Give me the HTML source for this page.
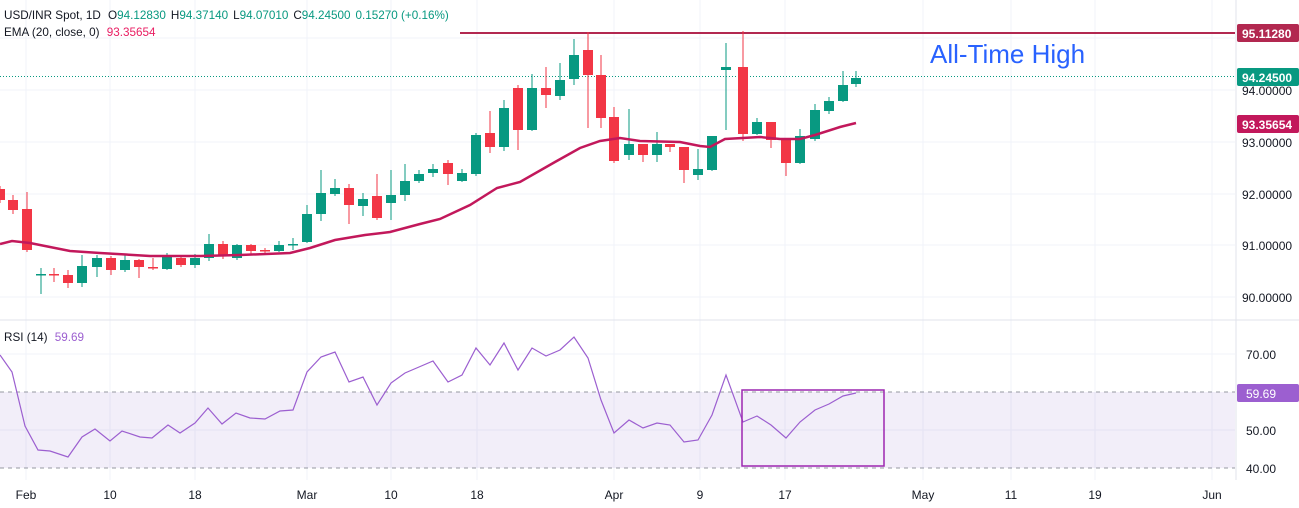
<!DOCTYPE html>
<html><head><meta charset="utf-8"><style>
body{margin:0;background:#fff;font-family:"Liberation Sans",sans-serif;}
svg{display:block}
text{font-family:"Liberation Sans",sans-serif;}
</style></head><body>
<svg id="s" width="1299" height="508" xmlns="http://www.w3.org/2000/svg">
<g stroke="#f0f3fa" stroke-width="1">
<line x1="26" y1="0" x2="26" y2="480"/><line x1="110" y1="0" x2="110" y2="480"/><line x1="195" y1="0" x2="195" y2="480"/><line x1="307" y1="0" x2="307" y2="480"/><line x1="391" y1="0" x2="391" y2="480"/><line x1="477" y1="0" x2="477" y2="480"/><line x1="614" y1="0" x2="614" y2="480"/><line x1="700" y1="0" x2="700" y2="480"/><line x1="785" y1="0" x2="785" y2="480"/><line x1="923" y1="0" x2="923" y2="480"/><line x1="1011" y1="0" x2="1011" y2="480"/><line x1="1095" y1="0" x2="1095" y2="480"/><line x1="1212" y1="0" x2="1212" y2="480"/>
<line x1="0" y1="38" x2="1235" y2="38"/><line x1="0" y1="90" x2="1235" y2="90"/><line x1="0" y1="142" x2="1235" y2="142"/><line x1="0" y1="194" x2="1235" y2="194"/><line x1="0" y1="245" x2="1235" y2="245"/><line x1="0" y1="297" x2="1235" y2="297"/>
<line x1="0" y1="354" x2="1235" y2="354"/><line x1="0" y1="430" x2="1235" y2="430"/>
</g>
<line x1="0" y1="320" x2="1299" y2="320" stroke="#e0e3eb"/>
<line x1="1236" y1="0" x2="1236" y2="480" stroke="#e0e3eb"/>
<rect x="0" y="392" width="1235" height="76" fill="#7e57c2" fill-opacity="0.1"/>
<line x1="0" y1="392" x2="1235" y2="392" stroke="#9598a1" stroke-dasharray="4,4"/>
<line x1="0" y1="468" x2="1235" y2="468" stroke="#9598a1" stroke-dasharray="4,4"/>
<line x1="0" y1="76.5" x2="1235" y2="76.5" stroke="#089981" stroke-dasharray="1,2"/>
<line x1="460" y1="33" x2="1235" y2="33" stroke="#b22850" stroke-width="2"/>
<g id="c"></g>
<polyline fill="none" stroke="#c2185b" stroke-width="2.5" points="0,244 12,241 30,243 70,251 100,253 150,256 200,256 240,255 290,253 310,248 335,240 365,235 390,232 420,224 440,219 470,205 497,188 520,182 555,162 580,148 600,141 620,138 640,141 680,142 700,146 710,147 725,139 760,137 780,139 800,139 815,135 840,127 856,123"/>
<polyline fill="none" stroke="#9c5fd0" stroke-width="1.2" points="0,355 12,372 25,426 38,450 50,451 68,457 82,437 95,429 110,441 122,431 140,437 152,438 168,425 180,433 195,423 208,408 222,424 236,413 250,418 265,419 280,411 293,410 307,372 321,357 335,352 349,382 363,377 377,405 391,383 405,373 419,367 433,361 448,382 462,375 476,348 490,365 504,343 518,370 532,348 546,356 560,350 574,337 588,358 601,400 614,433 629,420 643,428 657,423 670,425 684,442 698,440 712,415 726,375 743,422 757,416 771,425 786,438 800,422 815,410 829,404 843,396 856,393"/>
<rect x="742" y="390" width="142" height="76" fill="none" stroke="#9c27b0" stroke-width="1.5"/>
<text x="930" y="63" font-size="26" fill="#2962ff">All-Time High</text>
<g font-size="12" fill="#131722">
<text x="1242" y="95">94.00000</text><text x="1242" y="147">93.00000</text><text x="1242" y="199">92.00000</text><text x="1242" y="250">91.00000</text><text x="1242" y="302">90.00000</text>
<text x="1246" y="359">70.00</text><text x="1246" y="435">50.00</text><text x="1246" y="473">40.00</text>
</g>
<rect x="1237" y="24" width="62" height="18" rx="2" fill="#b22850"/><text x="1242" y="38" font-size="12" fill="#fff" font-weight="bold">95.11280</text>
<rect x="1237" y="68" width="62" height="18" rx="2" fill="#089981"/><text x="1242" y="82" font-size="12" fill="#fff" font-weight="bold">94.24500</text>
<rect x="1237" y="115" width="62" height="18" rx="2" fill="#c2185b"/><text x="1242" y="129" font-size="12" fill="#fff" font-weight="bold">93.35654</text>
<rect x="1237" y="384" width="62" height="18" rx="2" fill="#9c5fd0"/><text x="1246" y="398" font-size="12" fill="#fff">59.69</text>
<g font-size="12" fill="#131722" text-anchor="middle">
<text x="26" y="499">Feb</text><text x="110" y="499">10</text><text x="195" y="499">18</text><text x="307" y="499">Mar</text><text x="391" y="499">10</text><text x="477" y="499">18</text><text x="614" y="499">Apr</text><text x="700" y="499">9</text><text x="785" y="499">17</text><text x="923" y="499">May</text><text x="1011" y="499">11</text><text x="1095" y="499">19</text><text x="1212" y="499">Jun</text>
</g>
<text x="4" y="19" font-size="11.7" fill="#131722">USD/INR Spot, 1D <tspan dx="4">O</tspan><tspan fill="#089981">94.12830</tspan><tspan dx="5">H</tspan><tspan fill="#089981">94.37140</tspan><tspan dx="5">L</tspan><tspan fill="#089981">94.07010</tspan><tspan dx="5">C</tspan><tspan fill="#089981">94.24500</tspan><tspan dx="5" fill="#089981">0.15270 (+0.16%)</tspan></text>
<text x="4" y="36" font-size="11.7" fill="#131722">EMA (20, close, 0) <tspan dx="4" fill="#e91e63">93.35654</tspan></text>
<text x="4" y="341" font-size="11.7" fill="#131722">RSI (14) <tspan dx="4" fill="#9c5fd0">59.69</tspan></text>
</svg>
<script>
var d=[[0,'r',189,200,186,203],[13,'r',200,210,195,214],[27,'r',209,250,192,252],[41,'g',274,275,268,294],[54,'r',274,275,268,282],[68,'r',275,283,270,288],[82,'g',266,283,255,287],[97,'g',258,267,255,277],[111,'r',258,270,256,275],[125,'g',260,270,255,272],[139,'r',260,267,259,278],[153,'r',267,268,258,270],[167,'g',257,269,253,270],[181,'r',258,265,255,267],[195,'g',258,265,254,268],[209,'g',244,258,234,261],[223,'r',244,256,241,259],[237,'g',245,258,244,260],[251,'r',245,251,244,254],[265,'r',250,251,248,253],[279,'g',245,251,241,252],[293,'g',244,245,238,250],[307,'g',214,242,205,243],[321,'g',193,214,170,221],[335,'g',188,194,179,196],[349,'r',188,205,184,224],[363,'g',199,206,193,216],[377,'r',196,218,174,220],[391,'g',195,203,170,220],[405,'g',181,195,164,201],[419,'g',174,181,170,183],[433,'g',169,173,164,177],[448,'r',163,174,160,185],[462,'g',173,181,169,182],[476,'g',135,174,133,176],[490,'r',133,147,111,153],[504,'g',108,147,100,151],[518,'r',88,130,85,150],[532,'g',88,130,74,131],[546,'r',88,95,67,108],[560,'g',80,96,63,100],[574,'g',55,79,39,85],[588,'r',50,75,32,128],[601,'r',75,118,55,128],[614,'r',117,161,107,163],[629,'g',144,155,109,160],[643,'r',144,155,144,162],[657,'g',144,155,132,162],[670,'r',144,147,144,152],[684,'r',147,170,147,183],[698,'g',169,175,149,180],[712,'g',136,170,136,171],[726,'g',67,70,43,130],[743,'r',67,134,31,141],[757,'g',122,134,118,135],[771,'r',122,140,122,148],[786,'r',140,163,140,176],[800,'g',136,163,129,164],[815,'g',110,139,104,141],[829,'g',101,111,97,114],[843,'g',85,101,71,102],[856,'g',78,84,71,87]];
var s='';d.forEach(function(c){var col=c[1]=='g'?'#089981':'#f23645';s+='<line x1="'+c[0]+'" x2="'+c[0]+'" y1="'+c[4]+'" y2="'+c[5]+'" stroke="'+col+'" stroke-width="1"/>';s+='<rect x="'+(c[0]-5)+'" y="'+c[2]+'" width="10" height="'+Math.max(1.5,c[3]-c[2])+'" fill="'+col+'"/>';});
document.getElementById('c').innerHTML=s;
</script>
</body></html>
